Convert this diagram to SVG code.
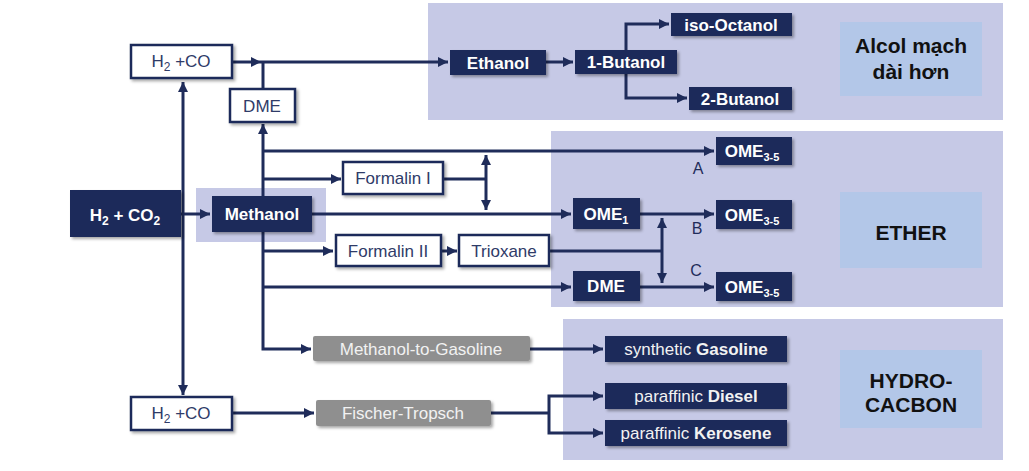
<svg xmlns="http://www.w3.org/2000/svg" width="1029" height="471" viewBox="0 0 1029 471">
<style>
.panel{fill:#c6c9e6}
.lbl{fill:#b3c7e8}
.dk{fill:#1f2c5a;filter:url(#sh)}
.wt{fill:#fff;stroke:#1f2c5a;stroke-width:2.5;filter:url(#sh)}
.gr{fill:#8f8f8f;filter:url(#sh)}
.t{font-family:"Liberation Sans",Arial,sans-serif;font-size:17px;text-anchor:middle}
.tw{fill:#fff;font-weight:bold}
.tn{fill:#2f3b68}
.tg{fill:#f2f2f2}
.big{font-family:"Liberation Sans",Arial,sans-serif;font-size:21px;font-weight:bold;fill:#111;text-anchor:middle}
.abc{font-family:"Liberation Sans",Arial,sans-serif;font-size:16px;fill:#1f2c5a;text-anchor:middle}
.ln{fill:none;stroke:#1f2c5a;stroke-width:3}
</style>
<defs>
<filter id="sh" x="-10%" y="-20%" width="130%" height="150%">
<feDropShadow dx="2" dy="2" stdDeviation="1.5" flood-color="#000" flood-opacity="0.35"/>
</filter>
<marker id="ar" markerUnits="userSpaceOnUse" markerWidth="12" markerHeight="12" refX="10" refY="5" orient="auto">
<path d="M0,0 L10,5 L0,10 z" fill="#1f2c5a"/>
</marker>
</defs>
<rect width="1029" height="471" fill="#fff"/>
<g id="panels">
<rect class="panel" x="428" y="3" width="575" height="117"/>
<rect class="lbl" x="840" y="22" width="142" height="74"/>
<rect class="panel" x="551" y="131" width="452" height="176"/>
<rect class="lbl" x="840" y="192" width="142" height="76"/>
<rect class="panel" x="563" y="319" width="440" height="141"/>
<rect class="lbl" x="840" y="350" width="142" height="78"/>
<rect class="panel" x="196" y="188" width="130" height="54"/>
</g>
<g id="connectors">
<path class="ln" d="M183,237 V82" marker-end="url(#ar)"/>
<path class="ln" d="M183,237 V395" marker-end="url(#ar)"/>
<path class="ln" d="M181,214 H210" marker-end="url(#ar)"/>
<path class="ln" d="M232,62 H261" marker-end="url(#ar)"/>
<path class="ln" d="M261,62 H448" marker-end="url(#ar)"/>
<path class="ln" d="M263,88 V62"/>
<path class="ln" d="M263,196 V124" marker-end="url(#ar)"/>
<path class="ln" d="M263,151 H714" marker-end="url(#ar)"/>
<path class="ln" d="M263,179 H341" marker-end="url(#ar)"/>
<path class="ln" d="M312,214 H571" marker-end="url(#ar)"/>
<path class="ln" d="M444,179 H486"/>
<path class="ln" d="M486,179 V155" marker-end="url(#ar)"/>
<path class="ln" d="M486,179 V210" marker-end="url(#ar)"/>
<path class="ln" d="M263,232 V349 H311" marker-end="url(#ar)"/>
<path class="ln" d="M263,251 H333" marker-end="url(#ar)"/>
<path class="ln" d="M441,251 H457" marker-end="url(#ar)"/>
<path class="ln" d="M263,287 H571" marker-end="url(#ar)"/>
<path class="ln" d="M549,251 H662"/>
<path class="ln" d="M662,251 V218" marker-end="url(#ar)"/>
<path class="ln" d="M662,251 V283" marker-end="url(#ar)"/>
<path class="ln" d="M640,214 H714" marker-end="url(#ar)"/>
<path class="ln" d="M640,287 H714" marker-end="url(#ar)"/>
<path class="ln" d="M530,349 H603" marker-end="url(#ar)"/>
<path class="ln" d="M232,413 H314" marker-end="url(#ar)"/>
<path class="ln" d="M491,413 H549"/>
<path class="ln" d="M549,413 V396 H603" marker-end="url(#ar)"/>
<path class="ln" d="M549,413 V433 H603" marker-end="url(#ar)"/>
<path class="ln" d="M546,62 H573" marker-end="url(#ar)"/>
<path class="ln" d="M626,50 V24 H669" marker-end="url(#ar)"/>
<path class="ln" d="M626,73 V98 H687" marker-end="url(#ar)"/>
<text class="abc" x="698" y="174">A</text>
<text class="abc" x="697" y="234">B</text>
<text class="abc" x="696" y="276">C</text>
</g>
<g id="n-h2co2"><rect class="dk" x="70" y="190" width="111" height="47"/>
<text class="t tw" x="125" y="221" font-size="18">H<tspan font-size="12" dy="4">2</tspan><tspan dy="-4"> + CO</tspan><tspan font-size="12" dy="4">2</tspan></text></g>
<g id="n-methanol"><rect class="dk" x="212" y="196" width="100" height="36"/>
<text class="t tw" x="262" y="220">Methanol</text></g>
<g id="n-h2co-top"><rect class="wt" x="131" y="45" width="101" height="33"/>
<text class="t tn" x="181" y="67">H<tspan font-size="12" dy="4">2</tspan><tspan dy="-4"> +CO</tspan></text></g>
<g id="n-dme-top"><rect class="wt" x="230" y="89" width="65" height="33"/>
<text class="t tn" x="262" y="111.5">DME</text></g>
<g id="n-ethanol"><rect class="dk" x="450" y="50" width="96" height="25"/>
<text class="t tw" x="498" y="68.5">Ethanol</text></g>
<g id="n-1butanol"><rect class="dk" x="575" y="50" width="102" height="24"/>
<text class="t tw" x="626" y="68">1-Butanol</text></g>
<g id="n-isooctanol"><rect class="dk" x="671" y="13" width="121" height="23"/>
<text class="t tw" x="731" y="30.5">iso-Octanol</text></g>
<g id="n-2butanol"><rect class="dk" x="689" y="87" width="103" height="23"/>
<text class="t tw" x="740" y="104.5">2-Butanol</text></g>
<g id="n-formalin1"><rect class="wt" x="343" y="162" width="100" height="32"/>
<text class="t tn" x="393" y="184">Formalin I</text></g>
<g id="n-formalin2"><rect class="wt" x="336" y="235" width="105" height="31"/>
<text class="t tn" x="388" y="256.5">Formalin II</text></g>
<g id="n-trioxane"><rect class="wt" x="459" y="235" width="90" height="31"/>
<text class="t tn" x="504" y="256.5">Trioxane</text></g>
<g id="n-omeA"><rect class="dk" x="716" y="137" width="76" height="28"/>
<text class="t tw" x="752" y="157">OME<tspan font-size="11" dy="4">3-5</tspan></text></g>
<g id="n-ome1"><rect class="dk" x="573" y="198" width="67" height="31"/>
<text class="t tw" x="606" y="219.5">OME<tspan font-size="11" dy="4">1</tspan></text></g>
<g id="n-omeB"><rect class="dk" x="716" y="200" width="76" height="29"/>
<text class="t tw" x="752" y="220.5">OME<tspan font-size="11" dy="4">3-5</tspan></text></g>
<g id="n-dme-mid"><rect class="dk" x="573" y="271" width="67" height="30"/>
<text class="t tw" x="606" y="292">DME</text></g>
<g id="n-omeC"><rect class="dk" x="716" y="272" width="76" height="29"/>
<text class="t tw" x="752" y="292.5">OME<tspan font-size="11" dy="4">3-5</tspan></text></g>
<g id="n-mtg"><rect class="gr" x="313" y="336" width="217" height="25" rx="2"/>
<text class="t tg" x="421" y="354.5">Methanol-to-Gasoline</text></g>
<g id="n-gasoline"><rect class="dk" x="605" y="336" width="182" height="26"/>
<text class="t tg" x="696" y="355">synthetic <tspan font-weight="bold">Gasoline</tspan></text></g>
<g id="n-h2co-bot"><rect class="wt" x="131" y="397" width="101" height="33"/>
<text class="t tn" x="181" y="419">H<tspan font-size="12" dy="4">2</tspan><tspan dy="-4"> +CO</tspan></text></g>
<g id="n-ft"><rect class="gr" x="316" y="400" width="175" height="26" rx="2"/>
<text class="t tg" x="403" y="419">Fischer-Tropsch</text></g>
<g id="n-diesel"><rect class="dk" x="605" y="383" width="182" height="26"/>
<text class="t tg" x="696" y="402">paraffinic <tspan font-weight="bold">Diesel</tspan></text></g>
<g id="n-kerosene"><rect class="dk" x="605" y="420" width="182" height="26"/>
<text class="t tg" x="696" y="439">paraffinic <tspan font-weight="bold">Kerosene</tspan></text></g>
<g id="labels">
<text class="big" x="911" y="53">Alcol mạch</text>
<text class="big" x="911" y="79">dài hơn</text>
<text class="big" x="911" y="240">ETHER</text>
<text class="big" x="911" y="388">HYDRO-</text>
<text class="big" x="911" y="412">CACBON</text>
</g>
</svg>
